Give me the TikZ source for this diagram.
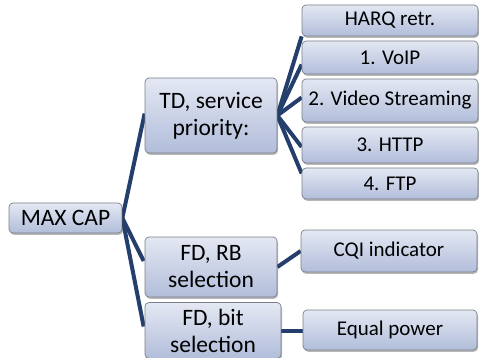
\documentclass[tikz,border=0pt]{standalone}
\usepackage{fontspec}
\setmainfont{Carlito}
\usetikzlibrary{calc,shadows,backgrounds}
\definecolor{conn}{HTML}{243F6B}
\definecolor{boxtop}{HTML}{E4E8F3}
\definecolor{boxbot}{HTML}{B1BDDA}
\definecolor{boxline}{HTML}{7A7F88}
\tikzset{
  box/.style={draw=boxline, line width=0.7pt, rounded corners=4pt,
    top color=boxtop, bottom color=boxbot, inner sep=0pt, align=center,
    text=black, drop shadow={shadow xshift=1pt, shadow yshift=-1.8pt, opacity=0.28, fill=black}},
  big/.style={box, font=\fontsize{23.5}{27}\selectfont},
  small/.style={box, font=\fontsize{21}{25}\selectfont},
  link/.style={draw=conn, line width=4pt}
}
\begin{document}
\begin{tikzpicture}[x=1pt,y=-1pt]
\clip (0,0) rectangle (479,358);
\node[big, minimum width=113pt, minimum height=30pt] (max) at (65.5,218) {MAX CAP};
\node[big, minimum width=132pt, minimum height=75pt] (td) at (211,115.5) {TD, service\\priority:};
\node[big, minimum width=132pt, minimum height=60pt] (rb) at (211,267) {FD, RB\\selection};
\node[big, minimum width=136pt, minimum height=56pt] (bit) at (213,330.5) {FD, bit\\selection};
\node[small, minimum width=176pt, minimum height=31pt] (harq) at (390,20.5) {HARQ retr.};
\node[small, minimum width=176pt, minimum height=33pt] (voip) at (390,57.5) {1. VoIP};
\node[small, minimum width=176pt, minimum height=43pt] (video) at (390,100.5) {2. Video Streaming};
\node[small, minimum width=176pt, minimum height=36pt] (http) at (390,145) {3. HTTP};
\node[small, minimum width=176pt, minimum height=31pt] (ftp) at (390,183.5) {4. FTP};
\node[small, minimum width=176pt, minimum height=42pt] (cqi) at (389,251) {CQI indicator};
\node[small, minimum width=174pt, minimum height=40pt] (eq) at (390,330) {Equal power};
\begin{pgfonlayer}{background}
\draw[link] (max.east) -- ($(td.west)+(0,-2)$);
\draw[link] (max.east) -- ($(rb.west)+(-1,-6)$);
\draw[link] (max.east) -- ($(bit.west)+(-1,-4)$);
\draw[link] (td.east) -- (harq.south west);
\draw[link] (td.east) -- ($(voip.west)+(0,7)$);
\draw[link] (td.east) -- ($(video.west)+(0,-3)$);
\draw[link] (td.east) -- ($(http.west)+(0,2)$);
\draw[link] (td.east) -- ($(ftp.west)+(0,-10)$);
\draw[link] (rb.east) -- (cqi.west);
\draw[link] (bit.east) -- (bit.east -| eq.west);
\end{pgfonlayer}
\end{tikzpicture}
\end{document}
